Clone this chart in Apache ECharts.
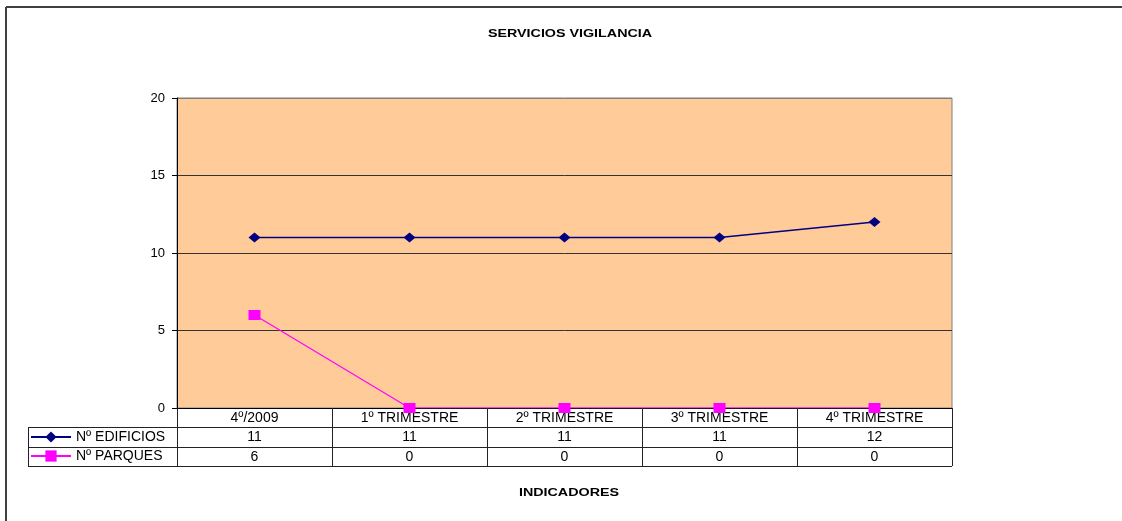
<!DOCTYPE html>
<html>
<head>
<meta charset="utf-8">
<script src="https://cdn.jsdelivr.net/npm/echarts@6/dist/echarts.min.js"></script>
<style>
  html, body { margin: 0; padding: 0; background: #fff; }
  #chart { width: 1122px; height: 521px; }
</style>
</head>
<body>
<div id="chart"></div>
<script>
const categories = ["4º/2009", "1º TRIMESTRE", "2º TRIMESTRE", "3º TRIMESTRE", "4º TRIMESTRE"];
const edificios = [11, 11, 11, 11, 12];
const parques = [6, 0, 0, 0, 0];
const yTicks = { min: 0, max: 20, interval: 5 };

const font = "'Liberation Sans', Arial, sans-serif";
const ink = "#222";

// extra category axes used as the value rows of the data table
const tableRow = (offset, values) => ({
  type: "category",
  data: categories,
  position: "bottom",
  offset,
  axisLine: { show: false },
  axisTick: { show: false },
  axisLabel: {
    interval: 0,
    margin: 3,
    color: "#000",
    fontFamily: font,
    fontSize: 14,
    formatter: (value, index) => String(values[index]),
  },
});

const tableLine = (x1, y1, x2, y2) => ({
  type: "line",
  silent: true,
  shape: { x1, y1, x2, y2 },
  style: { stroke: ink, lineWidth: 1 },
});

const chart = echarts.init(document.getElementById("chart"));

chart.setOption({
  animation: false,
  backgroundColor: "#fff",
  grid: {
    left: 177,
    right: 170,
    top: 98,
    bottom: 113,
    show: true,
    backgroundColor: "#FFCC99",
    borderColor: "#808080",
    borderWidth: 1,
  },
  legend: {
    orient: "vertical",
    left: 25,
    top: 425,
    itemWidth: 40,
    itemHeight: 14,
    itemGap: 5,
    textStyle: { color: "#000", fontFamily: font, fontSize: 14 },
    data: ["Nº EDIFICIOS", "Nº PARQUES"],
  },
  xAxis: [
    {
      type: "category",
      data: categories,
      boundaryGap: true,
      axisLine: { lineStyle: { color: "#000", width: 1 } },
      axisTick: {
        show: true,
        interval: 0,
        inside: false,
        length: 58,
        lineStyle: { color: ink, width: 1 },
      },
      axisLabel: {
        interval: 0,
        margin: 3,
        color: "#000",
        fontFamily: font,
        fontSize: 14,
      },
    },
    tableRow(19, edificios),
    tableRow(39, parques),
  ],
  yAxis: {
    type: "value",
    min: yTicks.min,
    max: yTicks.max,
    interval: yTicks.interval,
    axisLine: { show: true, lineStyle: { color: "#000", width: 1 } },
    axisTick: { show: true, length: 5, lineStyle: { color: "#000" } },
    axisLabel: { color: "#000", fontFamily: font, fontSize: 13, margin: 12 },
    splitLine: {
      lineStyle: { color: ["#333", "#333", "#333", "#333", "#808080"], width: 1 },
    },
  },
  series: [
    {
      name: "Nº EDIFICIOS",
      type: "line",
      data: edificios,
      color: "#000080",
      symbol: "diamond",
      symbolSize: [12, 10],
      lineStyle: { color: "#000080", width: 1.5 },
      itemStyle: { color: "#000080" },
    },
    {
      name: "Nº PARQUES",
      type: "line",
      data: parques,
      color: "#FF00FF",
      symbol: "rect",
      symbolSize: [12, 10],
      lineStyle: { color: "#FF00FF", width: 1.2 },
      itemStyle: { color: "#FF00FF" },
      z: 3,
    },
  ],
  graphic: [
    // outer chart frame (right and bottom edges fall outside the picture)
    { type: "line", silent: true, shape: { x1: 6, y1: 7, x2: 1122, y2: 7 }, style: { stroke: "#404040", lineWidth: 2 } },
    { type: "line", silent: true, shape: { x1: 6, y1: 7, x2: 6, y2: 521 }, style: { stroke: "#404040", lineWidth: 2 } },
    // data table rules
    tableLine(28, 427.5, 952, 427.5),
    tableLine(28, 447.5, 952, 447.5),
    tableLine(28, 466.5, 952, 466.5),
    tableLine(28.5, 427, 28.5, 467),
    {
      type: "text",
      silent: true,
      x: 570,
      y: 34,
      scaleX: 1.3,
      style: {
        text: "SERVICIOS VIGILANCIA",
        fill: "#000",
        font: "bold 11px " + font,
        textAlign: "center",
        textVerticalAlign: "middle",
      },
    },
    {
      type: "text",
      silent: true,
      x: 569,
      y: 493,
      scaleX: 1.3,
      style: {
        text: "INDICADORES",
        fill: "#000",
        font: "bold 11px " + font,
        textAlign: "center",
        textVerticalAlign: "middle",
      },
    },
  ],
});
</script>
</body>
</html>
